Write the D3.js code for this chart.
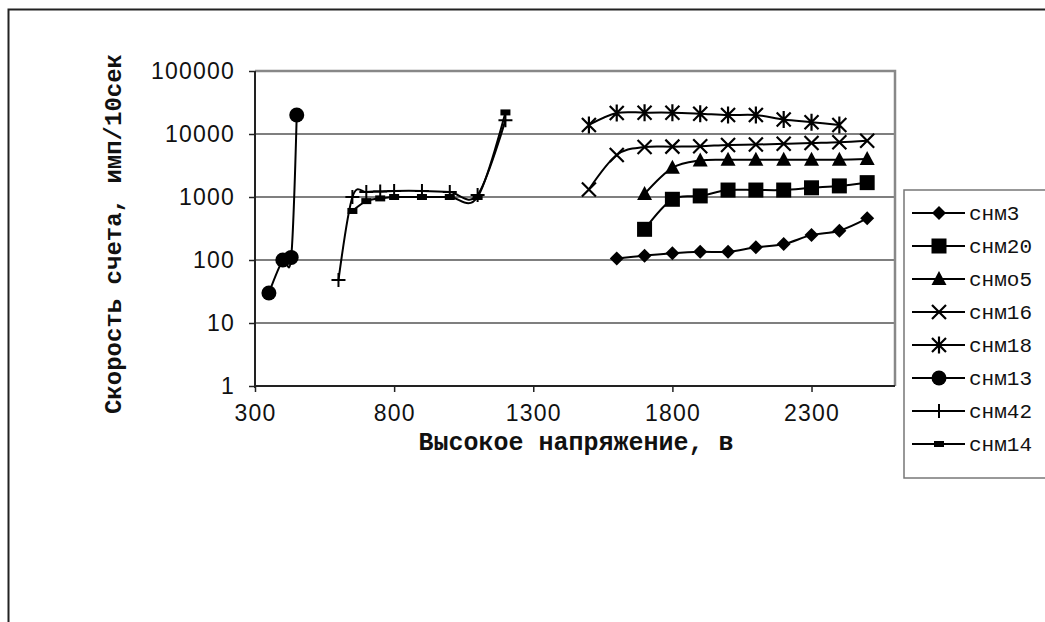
<!DOCTYPE html>
<html><head><meta charset="utf-8">
<script src="https://cdn.jsdelivr.net/npm/d3@7"></script>
<style>body{margin:0;background:#fff;}svg{display:block;}</style>
</head><body>
<svg id="c" width="1045" height="622"></svg>
<script>
// ---- data ----
const seriesNames = ["снм3","снм20","снмо5","снм16","снм18","снм13","снм42","снм14"];
const markerTypes = ["diamond","square","triangle","x","asterisk","circle","plus","dash"];
const xSnm3  = [1600,1700,1800,1900,2000,2100,2200,2300,2400,2500];
const ySnm3  = [106,117,128,135,135,159,179,249,292,458];
const xSnm20 = [1700,1800,1900,2000,2100,2200,2300,2400,2500];
const ySnm20 = [307,920,1040,1290,1290,1290,1400,1500,1690];
const xSnmo5 = [1700,1800,1900,2000,2100,2200,2300,2400,2500];
const ySnmo5 = [1120,2900,3800,3900,3900,3900,3900,3900,4000];
const xSnm16 = [1500,1600,1700,1800,1900,2000,2100,2200,2300,2400,2500];
const ySnm16 = [1320,4640,6200,6300,6400,6700,6800,7000,7200,7400,7800];
const xSnm18 = [1500,1600,1700,1800,1900,2000,2100,2200,2300,2400];
const ySnm18 = [13900,21500,21800,21800,21000,20000,20000,17000,15400,13900];
const xSnm13 = [350,400,430,450];
const ySnm13 = [30,100,110,20000];
const xSnm42 = [600,650,700,750,800,900,1000,1100,1200];
const ySnm42 = [48,1000,1200,1220,1250,1250,1200,1080,16600];
const xSnm14 = [650,700,750,800,900,1000,1100,1200];
const ySnm14 = [600,860,950,1000,1000,1000,1000,22000];
const xTicks = [300,800,1300,1800,2300];
const yTicks = [1,10,100,1000,10000,100000];
const xTitle = "Высокое напряжение, в";
const yTitle = "Скорость счета, имп/10сек";

const seriesX = [xSnm3,xSnm20,xSnmo5,xSnm16,xSnm18,xSnm13,xSnm42,xSnm14];
const seriesY = [ySnm3,ySnm20,ySnmo5,ySnm16,ySnm18,ySnm13,ySnm42,ySnm14];

// ---- layout ----
const svg = d3.select("#c");
const L = 255, R = 895, T = 71, B = 386;
const x = d3.scaleLinear().domain([300,2600]).range([L,R]);
const y = d3.scaleLog().domain([1,100000]).range([B,T]);

// outer frame (extends past image)
svg.append("rect").attr("x",8.5).attr("y",9.5).attr("width",1100).attr("height",700)
  .attr("fill","none").attr("stroke","#222").attr("stroke-width",2);

// gridlines
svg.append("g").selectAll("line").data(yTicks.filter(d=>d>1 && d<100000)).join("line")
  .attr("x1",L).attr("x2",R).attr("y1",d=>y(d)).attr("y2",d=>y(d))
  .attr("stroke","#555").attr("stroke-width",1.5);
// plot frame top/right
svg.append("path").attr("d",`M${L},${T}H${R}V${B}`).attr("fill","none")
  .attr("stroke","#888").attr("stroke-width",2.5);

// axes
const gx = svg.append("g").attr("transform",`translate(0,${B})`)
  .call(d3.axisBottom(x).tickValues(xTicks).tickFormat(d3.format("d")).tickSize(6).tickPadding(13));
const gy = svg.append("g").attr("transform",`translate(${L},0)`)
  .call(d3.axisLeft(y).tickValues(yTicks).tickFormat(d3.format("d")).tickSize(6).tickPadding(14));
[gx,gy].forEach(g=>{
  g.select(".domain").attr("stroke","#222").attr("stroke-width",2);
  g.selectAll(".tick line").attr("stroke","#222").attr("stroke-width",1.5);
  g.selectAll("text").attr("fill","#111").style("font-family","'Liberation Sans',Arial,sans-serif")
    .style("font-size","23px").style("letter-spacing","1.2px");
});
gy.select(".domain").attr("d",`M0,${B+2}V${T}`);
gx.select(".domain").attr("d",`M${L-1},0H${R}`);

// titles
svg.append("text").attr("x",576).attr("y",450).attr("text-anchor","middle")
  .style("font-family","'Liberation Mono','Courier New',monospace").style("font-weight","bold")
  .style("font-size","25px").attr("fill","#111").text(xTitle);
svg.append("text").attr("transform","translate(121,234) rotate(-90)").attr("text-anchor","middle")
  .style("font-family","'Liberation Mono','Courier New',monospace").style("font-weight","bold")
  .style("font-size","24px").attr("fill","#111").text(yTitle);

// markers
function marker(g, type){
  const s = 7;
  if(type==="diamond") g.append("path").attr("d",`M0,${-s}L${s},0L0,${s}L${-s},0Z`).attr("fill","#000");
  else if(type==="square") g.append("rect").attr("x",-7.5).attr("y",-7.5).attr("width",15).attr("height",15).attr("fill","#000");
  else if(type==="triangle") g.append("path").attr("d",`M0,-8L7.5,6L-7.5,6Z`).attr("fill","#000");
  else if(type==="circle") g.append("circle").attr("r",7.5).attr("fill","#000");
  else if(type==="x") g.append("path").attr("d",`M-7,-7L7,7M-7,7L7,-7`).attr("stroke","#000").attr("stroke-width",2.2).attr("fill","none");
  else if(type==="asterisk") g.append("path").attr("d",`M-7,-7L7,7M-7,7L7,-7M0,-8.5V8.5`).attr("stroke","#000").attr("stroke-width",2.2).attr("fill","none");
  else if(type==="plus") g.append("path").attr("d",`M-7,0H7M0,-7V7`).attr("stroke","#000").attr("stroke-width",2).attr("fill","none");
  else if(type==="dash") g.append("rect").attr("x",-5).attr("y",-3).attr("width",10).attr("height",6).attr("fill","#000");
}

const line = d3.line().x(d=>x(d[0])).y(d=>y(d[1])).curve(d3.curveCardinal.tension(0));
const plot = svg.append("g");
seriesNames.forEach((name,i)=>{
  const pts = seriesX[i].map((xv,j)=>[xv, seriesY[i][j]]);
  plot.append("path").attr("d",line(pts)).attr("fill","none").attr("stroke","#000").attr("stroke-width",2);
  pts.forEach(p=>{
    marker(plot.append("g").attr("transform",`translate(${x(p[0])},${y(p[1])})`), markerTypes[i]);
  });
});

// legend
const lg = svg.append("g");
lg.append("rect").attr("x",904).attr("y",190).attr("width",200).attr("height",288)
  .attr("fill","#fff").attr("stroke","#777").attr("stroke-width",1.5);
seriesNames.forEach((name,i)=>{
  const yy = 213 + i*33;
  lg.append("line").attr("x1",912).attr("x2",965).attr("y1",yy).attr("y2",yy).attr("stroke","#000").attr("stroke-width",2);
  marker(lg.append("g").attr("transform",`translate(939,${yy})`), markerTypes[i]);
  lg.append("text").attr("x",969).attr("y",yy).attr("dy","0.35em")
    .style("font-family","'Liberation Mono','Courier New',monospace").style("font-size","21px")
    .attr("fill","#111").text(name);
});
</script>
</body></html>
